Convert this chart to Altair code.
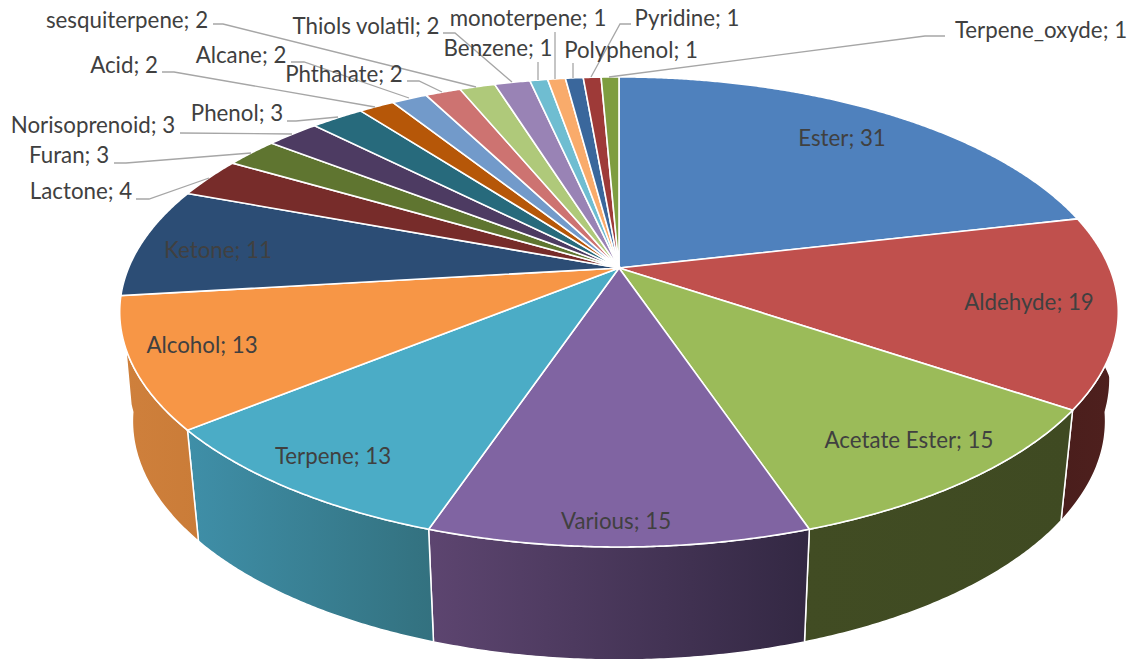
import numpy as np
import altair as alt

# ---- data ----
CATEGORIES = ["Ester", "Aldehyde", "Acetate Ester", "Various", "Terpene", "Alcohol", "Ketone",
              "Lactone", "Furan", "Norisoprenoid", "Phenol", "Acid", "Alcane", "Phthalate",
              "sesquiterpene", "Thiols volatil", "Benzene", "monoterpene", "Polyphenol",
              "Pyridine", "Terpene_oxyde"]
VALUES = [31, 19, 15, 15, 13, 13, 11, 4, 3, 3, 3, 2, 2, 2, 2, 2, 1, 1, 1, 1, 1]
COLORS = ["#4f81bd", "#c0504d", "#9bbb59", "#8064a2", "#4bacc6", "#f79646", "#2c4d75",
          "#772c2a", "#5f7530", "#4d3b62", "#276a7c", "#b65708", "#729aca", "#cd7371",
          "#afc97a", "#9983b5", "#6fbdd1", "#f9ab6b", "#3a679c", "#9e3a38", "#7e9d40"]

# ---- layout ----
WALLS = {"Aldehyde": ("#4a1e1c", "#4f201e"),
         "Acetate Ester": ("#414c23", "#3f4a22"),
         "Various": ("#5d4570", "#332843"),
         "Terpene": ("#3f8fa8", "#33717f"),
         "Alcohol": ("#cf803c", "#ca7c38")}
LABEL_POS = {"Ester": (842, 137), "Aldehyde": (1029, 301), "Acetate Ester": (909, 439),
             "Various": (616, 520), "Terpene": (333, 455), "Alcohol": (202, 344), "Ketone": (218, 249),
             "Lactone": (81, 190), "Furan": (69, 154), "Norisoprenoid": (93, 124), "Phenol": (237, 112),
             "Acid": (124, 64), "Alcane": (241, 54), "Phthalate": (344, 73), "sesquiterpene": (127, 19),
             "Thiols volatil": (366, 25), "Benzene": (498, 47), "monoterpene": (528, 17),
             "Polyphenol": (631, 49), "Pyridine": (687, 17), "Terpene_oxyde": (1041, 29)}
LABEL_DY = 2
LEADERS = {"Lactone": [(136, 199), (149, 199), (209, 178)],
           "Furan": [(114, 163), (126, 163), (251, 153)],
           "Norisoprenoid": [(180, 133), (292, 134)],
           "Phenol": [(287, 121), (296, 121), (338, 117)],
           "Acid": [(162, 72), (174, 72), (375, 107)],
           "Alcane": [(291, 62), (304, 62), (409, 98)],
           "Phthalate": [(407, 81), (419, 81), (442, 92)],
           "sesquiterpene": [(213, 24), (223, 24), (476, 87)],
           "Thiols volatil": [(443, 33), (455, 33), (512, 82)],
           "Benzene": [(538, 62), (538, 80)],
           "monoterpene": [(555, 32), (555, 79)],
           "Polyphenol": [(573, 63), (573, 78)],
           "Pyridine": [(631, 24), (620, 24), (591, 77)],
           "Terpene_oxyde": [(945, 36), (925, 36), (609, 77)]}
CX, CY, A, B, K = 619.0, 268.0, 490.5, 226.8, 0.187
CY2, A2, B2 = 376.3, 478.0, 230.6
BULGE = 0.027
TEXT_COLOR = "#404040"
FONT = "Lato"
FONT_SIZE = 22.3
LEADER_COLOR = "#a6a6a6"


def top(theta):
    u, v = np.sin(theta), np.cos(theta)
    d = 1 + K * v
    return np.column_stack([CX + A * u / d, CY - B * v / d])


def bottom(theta):
    u, v = np.sin(theta), np.cos(theta)
    d = 1 + K * v
    s = 1 + BULGE * np.clip(1 + v / 0.15, 0, 1)
    return np.column_stack([CX + A2 * u / d * s, CY2 - B2 * v / d])


cum = np.cumsum([0] + VALUES) / sum(VALUES) * 2 * np.pi


def feature(coords, kind="Polygon", **props):
    return {"type": "Feature", "properties": props,
            "geometry": {"type": kind, "coordinates": coords}}


def collection(features):
    return alt.InlineData(values={"type": "FeatureCollection", "features": features},
                          format=alt.DataFormat(property="features", type="json"))


PROJ = dict(type="identity", scale=1, translate=[-8, -8])
layers = []

# side walls, each with its own left-to-right gradient
for name, (c0, c1) in WALLS.items():
    i = CATEGORIES.index(name)
    th = np.linspace(cum[i], cum[i + 1], 90)
    ring = np.vstack([top(th), bottom(th)[::-1]])
    ring = np.vstack([ring, ring[:1]]).tolist()
    layers.append(
        alt.Chart(collection([feature([ring], name=name)])).mark_geoshape(
            fill=alt.LinearGradient(gradient="linear", x1=0, x2=1, y1=0, y2=0,
                                    stops=[alt.GradientStop(offset=0, color=c0),
                                           alt.GradientStop(offset=1, color=c1)]),
            stroke="white", strokeWidth=1.5
        ).project(**PROJ)
    )

# top face
wedges = []
for i, name in enumerate(CATEGORIES):
    th = np.linspace(cum[i], cum[i + 1], max(6, int(VALUES[i] * 8)))
    ring = np.vstack([[[CX, CY]], top(th), [[CX, CY]]]).tolist()
    wedges.append(feature([ring], name=name, color=COLORS[i]))
layers.append(
    alt.Chart(collection(wedges)).mark_geoshape(stroke="white", strokeWidth=1.6).encode(
        fill=alt.Fill("properties.color:N", scale=None)
    ).project(**PROJ)
)

# leader lines
leaders = [feature([list(p) for p in pts], kind="LineString", name=n) for n, pts in LEADERS.items()]
layers.append(
    alt.Chart(collection(leaders)).mark_geoshape(
        filled=False, stroke=LEADER_COLOR, strokeWidth=1.3
    ).project(**PROJ)
)

# labels
rows = [{"label": f"{n}; {v}", "lon": LABEL_POS[n][0], "lat": LABEL_POS[n][1] + LABEL_DY}
        for n, v in zip(CATEGORIES, VALUES)]
layers.append(
    alt.Chart(alt.Data(values=rows)).mark_text(
        font=FONT, fontSize=FONT_SIZE, color=TEXT_COLOR, align="center", baseline="middle"
    ).encode(
        longitude=alt.Longitude("lon:Q"),
        latitude=alt.Latitude("lat:Q"),
        text="label:N",
    ).project(**PROJ)
)

chart = alt.layer(*layers).properties(
    width=1121, height=651, padding=0, autosize=alt.AutoSizeParams(type="none"), background="white"
).configure_view(stroke=None)

chart.save("out.html", embed_options={"renderer": "svg", "actions": False})
